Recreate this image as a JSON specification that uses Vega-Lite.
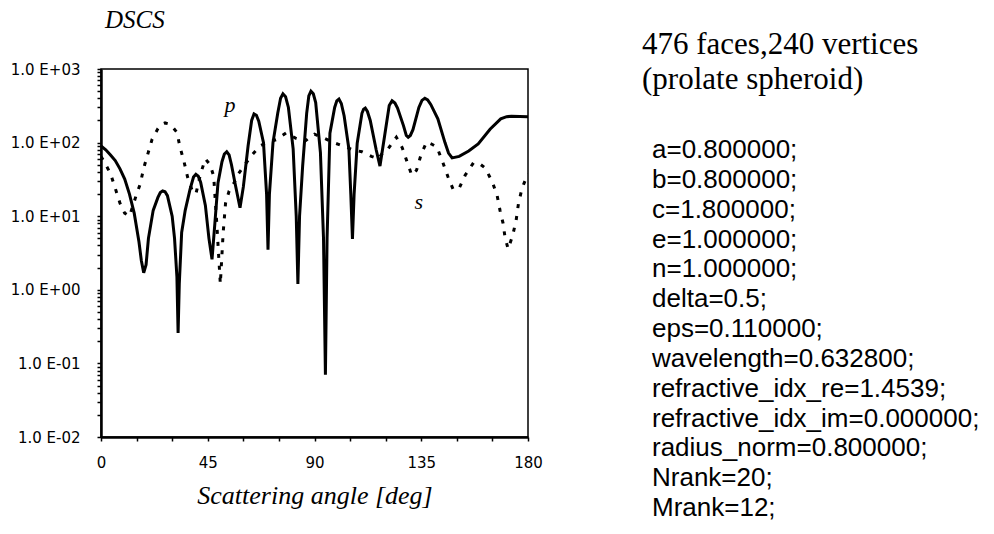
{
  "$schema": "https://vega.github.io/schema/vega-lite/v6.json",
  "autosize": "none",
  "padding": {"left": 101, "top": 69, "right": 893, "bottom": 465},
  "background": "white",
  "config": {"view": {"stroke": null}},
  "datasets": {
    "p": [
      {"angle": 0, "dscs": 90}, {"angle": 2, "dscs": 80}, {"angle": 4, "dscs": 68}, {"angle": 6, "dscs": 57},
      {"angle": 8, "dscs": 44}, {"angle": 10, "dscs": 32}, {"angle": 12, "dscs": 20}, {"angle": 14, "dscs": 11},
      {"angle": 16, "dscs": 4.5}, {"angle": 17, "dscs": 2.5}, {"angle": 18, "dscs": 1.7}, {"angle": 19, "dscs": 2.2},
      {"angle": 20, "dscs": 5}, {"angle": 22, "dscs": 12}, {"angle": 24, "dscs": 18}, {"angle": 25, "dscs": 21},
      {"angle": 26, "dscs": 22}, {"angle": 27, "dscs": 21.5},
      {"angle": 28, "dscs": 19}, {"angle": 30, "dscs": 10}, {"angle": 31, "dscs": 5}, {"angle": 32, "dscs": 1.5},
      {"angle": 32.5, "dscs": 0.26}, {"angle": 33, "dscs": 1.2}, {"angle": 34, "dscs": 6}, {"angle": 35.5, "dscs": 12},
      {"angle": 37.5, "dscs": 23}, {"angle": 39, "dscs": 34}, {"angle": 40, "dscs": 37}, {"angle": 41, "dscs": 35},
      {"angle": 42, "dscs": 29}, {"angle": 44, "dscs": 14},
      {"angle": 45.5, "dscs": 5}, {"angle": 46.8, "dscs": 2.6}, {"angle": 48, "dscs": 8}, {"angle": 49.3, "dscs": 28},
      {"angle": 51, "dscs": 55}, {"angle": 52, "dscs": 70}, {"angle": 53, "dscs": 75}, {"angle": 54, "dscs": 68},
      {"angle": 55, "dscs": 50}, {"angle": 56.5, "dscs": 28},
      {"angle": 58.6, "dscs": 13}, {"angle": 60, "dscs": 25}, {"angle": 62, "dscs": 90}, {"angle": 63.5, "dscs": 200},
      {"angle": 64.5, "dscs": 245}, {"angle": 65.5, "dscs": 235},
      {"angle": 66.5, "dscs": 195}, {"angle": 68.5, "dscs": 100}, {"angle": 69.8, "dscs": 20}, {"angle": 70.4, "dscs": 3.5},
      {"angle": 71, "dscs": 20}, {"angle": 72.5, "dscs": 100}, {"angle": 74.5, "dscs": 250}, {"angle": 75.7, "dscs": 400},
      {"angle": 76.7, "dscs": 460}, {"angle": 77.8, "dscs": 420},
      {"angle": 79, "dscs": 300}, {"angle": 81, "dscs": 82}, {"angle": 82.3, "dscs": 10}, {"angle": 83, "dscs": 1.2},
      {"angle": 83.7, "dscs": 10}, {"angle": 85, "dscs": 48}, {"angle": 86.7, "dscs": 250}, {"angle": 87.6, "dscs": 430},
      {"angle": 88.5, "dscs": 500}, {"angle": 89.5, "dscs": 460},
      {"angle": 90.5, "dscs": 350}, {"angle": 92.5, "dscs": 73}, {"angle": 93.8, "dscs": 5}, {"angle": 94.6, "dscs": 0.07},
      {"angle": 95.3, "dscs": 5}, {"angle": 96.5, "dscs": 134}, {"angle": 98.5, "dscs": 300}, {"angle": 99.4, "dscs": 370},
      {"angle": 100.3, "dscs": 390}, {"angle": 101.3, "dscs": 340},
      {"angle": 102.5, "dscs": 230}, {"angle": 104.5, "dscs": 82}, {"angle": 105.3, "dscs": 20}, {"angle": 106, "dscs": 4.9},
      {"angle": 106.7, "dscs": 20}, {"angle": 108, "dscs": 98}, {"angle": 110, "dscs": 250}, {"angle": 110.7, "dscs": 285},
      {"angle": 111.4, "dscs": 295}, {"angle": 112.3, "dscs": 265},
      {"angle": 113.5, "dscs": 200}, {"angle": 116, "dscs": 80}, {"angle": 117.6, "dscs": 48}, {"angle": 119.5, "dscs": 120},
      {"angle": 121.5, "dscs": 320}, {"angle": 122.7, "dscs": 370}, {"angle": 123.9, "dscs": 345},
      {"angle": 125, "dscs": 295}, {"angle": 127.5, "dscs": 170}, {"angle": 128.7, "dscs": 125}, {"angle": 129.5, "dscs": 118},
      {"angle": 130.4, "dscs": 125},
      {"angle": 131.5, "dscs": 150}, {"angle": 134, "dscs": 300}, {"angle": 135.3, "dscs": 375}, {"angle": 136.5, "dscs": 400},
      {"angle": 137.7, "dscs": 380}, {"angle": 139, "dscs": 330},
      {"angle": 142, "dscs": 210}, {"angle": 145, "dscs": 100}, {"angle": 146.5, "dscs": 72}, {"angle": 148, "dscs": 62},
      {"angle": 151, "dscs": 65},
      {"angle": 155, "dscs": 77}, {"angle": 159, "dscs": 96}, {"angle": 164, "dscs": 152}, {"angle": 168.5, "dscs": 210},
      {"angle": 171, "dscs": 225}, {"angle": 173, "dscs": 228}, {"angle": 180, "dscs": 225}
    ],
    "s": [
      {"angle": 0, "dscs": 65}, {"angle": 2, "dscs": 50}, {"angle": 4, "dscs": 38}, {"angle": 6, "dscs": 24},
      {"angle": 8, "dscs": 15}, {"angle": 10, "dscs": 11}, {"angle": 12, "dscs": 10}, {"angle": 13.5, "dscs": 14},
      {"angle": 15, "dscs": 20}, {"angle": 16.5, "dscs": 27}, {"angle": 18, "dscs": 45}, {"angle": 20, "dscs": 75},
      {"angle": 21.5, "dscs": 110}, {"angle": 24, "dscs": 155}, {"angle": 25.5, "dscs": 178}, {"angle": 27, "dscs": 185},
      {"angle": 28.5, "dscs": 180}, {"angle": 30, "dscs": 165},
      {"angle": 32, "dscs": 138}, {"angle": 33.3, "dscs": 87}, {"angle": 35, "dscs": 55}, {"angle": 36.5, "dscs": 34},
      {"angle": 38.5, "dscs": 22}, {"angle": 40, "dscs": 20}, {"angle": 42, "dscs": 38}, {"angle": 44, "dscs": 60},
      {"angle": 46, "dscs": 50}, {"angle": 47.5, "dscs": 35}, {"angle": 48.8, "dscs": 8}, {"angle": 50.3, "dscs": 1.2},
      {"angle": 51.5, "dscs": 6}, {"angle": 52.5, "dscs": 15}, {"angle": 54, "dscs": 22}, {"angle": 56, "dscs": 28},
      {"angle": 58, "dscs": 38}, {"angle": 61, "dscs": 52}, {"angle": 64, "dscs": 70}, {"angle": 67, "dscs": 90},
      {"angle": 70, "dscs": 100}, {"angle": 74, "dscs": 110}, {"angle": 78, "dscs": 135}, {"angle": 82, "dscs": 115},
      {"angle": 86, "dscs": 105}, {"angle": 90, "dscs": 130}, {"angle": 94, "dscs": 115}, {"angle": 98, "dscs": 100},
      {"angle": 102, "dscs": 90}, {"angle": 106, "dscs": 80}, {"angle": 110, "dscs": 75}, {"angle": 114, "dscs": 65},
      {"angle": 117, "dscs": 60}, {"angle": 119, "dscs": 75}, {"angle": 121, "dscs": 82}, {"angle": 124.5, "dscs": 118},
      {"angle": 127, "dscs": 85}, {"angle": 129, "dscs": 55}, {"angle": 131, "dscs": 36}, {"angle": 133, "dscs": 42},
      {"angle": 135, "dscs": 70}, {"angle": 137.3, "dscs": 102}, {"angle": 139.5, "dscs": 95}, {"angle": 141.6, "dscs": 87},
      {"angle": 144, "dscs": 55}, {"angle": 146.3, "dscs": 34}, {"angle": 148.5, "dscs": 23}, {"angle": 151, "dscs": 24},
      {"angle": 153.5, "dscs": 36}, {"angle": 157, "dscs": 53}, {"angle": 159.5, "dscs": 52}, {"angle": 162, "dscs": 45},
      {"angle": 165, "dscs": 29}, {"angle": 167, "dscs": 19}, {"angle": 168.2, "dscs": 12}, {"angle": 169.5, "dscs": 8},
      {"angle": 170.3, "dscs": 5.2}, {"angle": 171.6, "dscs": 3.6}, {"angle": 173.5, "dscs": 5.4}, {"angle": 175, "dscs": 8.8},
      {"angle": 176, "dscs": 15}, {"angle": 177.5, "dscs": 24}, {"angle": 180, "dscs": 38}
    ],
    "labels": [
      {"angle": 54.4, "dscs": 325, "label": "p"},
      {"angle": 134, "dscs": 15.5, "label": "s"}
    ],
    "header": [
      {"row": 0, "text": "476 faces,240 vertices"},
      {"row": 1, "text": "(prolate spheroid)"}
    ],
    "params": [
      {"row": 0, "text": "a=0.800000;"},
      {"row": 1, "text": "b=0.800000;"},
      {"row": 2, "text": "c=1.800000;"},
      {"row": 3, "text": "e=1.000000;"},
      {"row": 4, "text": "n=1.000000;"},
      {"row": 5, "text": "delta=0.5;"},
      {"row": 6, "text": "eps=0.110000;"},
      {"row": 7, "text": "wavelength=0.632800;"},
      {"row": 8, "text": "refractive_idx_re=1.4539;"},
      {"row": 9, "text": "refractive_idx_im=0.000000;"},
      {"row": 10, "text": "radius_norm=0.800000;"},
      {"row": 11, "text": "Nrank=20;"},
      {"row": 12, "text": "Mrank=12;"}
    ]
  },
  "hconcat": [
    {
      "width": 427,
      "height": 368,
      "view": {"stroke": "black", "strokeWidth": 1.5},
      "title": {"text": "DSCS", "anchor": "start", "frame": "group", "dx": 4, "offset": 29, "font": "Liberation Serif", "fontStyle": "italic", "fontWeight": "normal", "fontSize": 25, "color": "black"},
      "encoding": {
        "x": {
          "field": "angle", "type": "quantitative",
          "scale": {"domain": [0, 180], "nice": false, "zero": false},
          "axis": {
            "title": "Scattering angle [deg]",
            "values": [0, 15, 30, 45, 60, 75, 90, 105, 120, 135, 150, 165, 180],
            "labelExpr": "datum.value % 45 === 0 ? toString(datum.value) : ' '",
            "grid": false, "domainColor": "black", "domainWidth": 2.5,
            "tickColor": "black", "tickSize": 4, "tickWidth": 1.5,
            "labelFont": "DejaVu Sans", "labelFontSize": 15, "labelColor": "black", "labelPadding": 14,
            "labelFlush": false, "labelOverlap": false, "labelBound": false,
            "titleFont": "Liberation Serif", "titleFontStyle": "italic", "titleFontWeight": "normal",
            "titleFontSize": 26, "titleColor": "black", "titlePadding": 12
          }
        },
        "y": {
          "field": "dscs", "type": "quantitative",
          "scale": {"type": "log", "domain": [0.01, 1000], "nice": false},
          "axis": {
            "title": null,
            "values": [0.01, 0.02, 0.03, 0.04, 0.05, 0.06, 0.07, 0.08, 0.09, 0.1, 0.2, 0.3, 0.4, 0.5, 0.6, 0.7, 0.8, 0.9, 1, 2, 3, 4, 5, 6, 7, 8, 9, 10, 20, 30, 40, 50, 60, 70, 80, 90, 100, 200, 300, 400, 500, 600, 700, 800, 900, 1000],
            "labelExpr": "abs(log(datum.value)/LN10 - round(log(datum.value)/LN10)) < 0.01 ? ('1.0 E' + (datum.value >= 1 ? '+' : '-') + '0' + abs(round(log(datum.value)/LN10))) : ''",
            "grid": false, "domainColor": "black", "domainWidth": 2.5,
            "tickColor": "black", "tickSize": 4, "tickWidth": 1.5,
            "labelFont": "DejaVu Sans", "labelFontSize": 15, "labelColor": "black", "labelPadding": 17,
            "labelFlush": false, "labelOverlap": false
          }
        }
      },
      "layer": [
        {
          "data": {"name": "p"},
          "mark": {"type": "line", "color": "black", "strokeWidth": 3, "clip": true}
        },
        {
          "data": {"name": "s"},
          "mark": {"type": "line", "color": "black", "strokeWidth": 3, "strokeDash": [4, 8], "strokeCap": "butt", "clip": true}
        },
        {
          "data": {"name": "labels"},
          "mark": {"type": "text", "font": "Liberation Serif", "fontStyle": "italic", "fontSize": 22, "color": "black", "baseline": "middle", "align": "center"},
          "encoding": {
            "text": {"field": "label"}
          }
        }
      ]
    },
    {
      "vconcat": [
        {
          "width": 340,
          "height": 35,
          "data": {"name": "header"},
          "mark": {"type": "text", "font": "Liberation Serif", "fontSize": 31, "color": "black", "align": "left", "baseline": "middle", "dy": -24},
          "encoding": {
            "x": {"value": 0},
            "y": {"field": "row", "type": "ordinal", "scale": {"type": "point", "padding": 0}, "axis": null},
            "text": {"field": "text"}
          }
        },
        {
          "width": 340,
          "height": 358,
          "data": {"name": "params"},
          "mark": {"type": "text", "font": "Liberation Sans", "fontSize": 26, "color": "black", "align": "left", "baseline": "middle", "dx": 10},
          "encoding": {
            "x": {"value": 0},
            "y": {"field": "row", "type": "ordinal", "scale": {"type": "point", "padding": 0}, "axis": null},
            "text": {"field": "text"}
          }
        }
      ],
      "spacing": 46,
      "bounds": "flush"
    }
  ],
  "spacing": 114,
  "bounds": "flush"
}
